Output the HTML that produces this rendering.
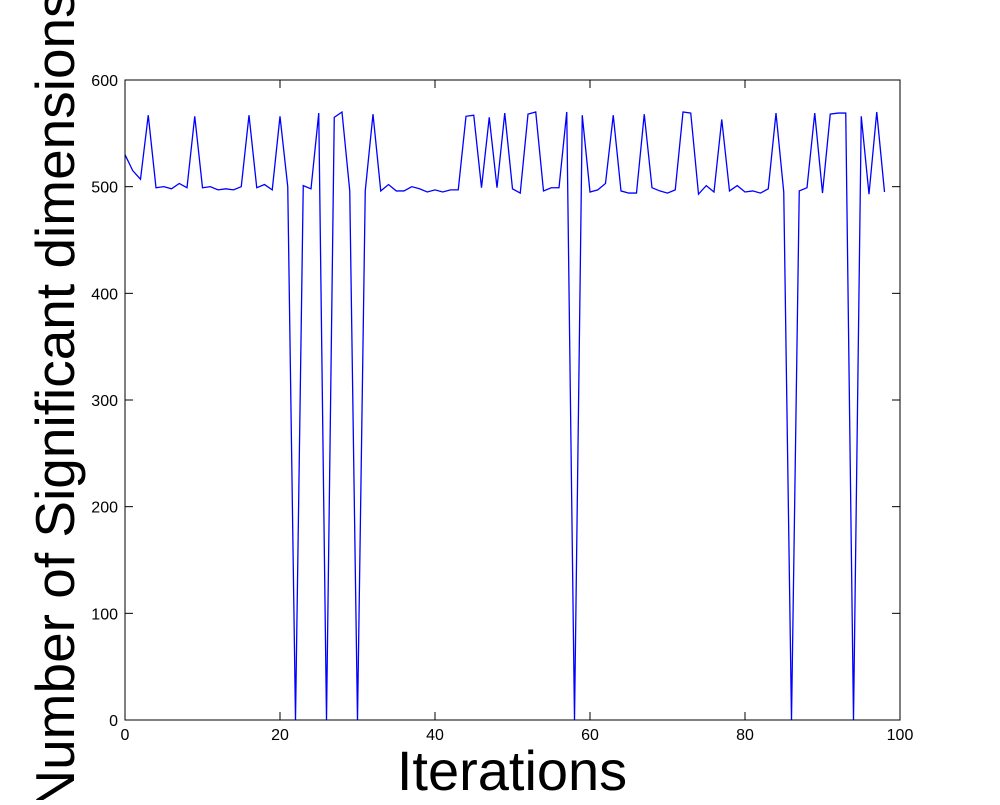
<!DOCTYPE html>
<html><head><meta charset="utf-8"><style>
body{margin:0;background:#fff;}
svg text{font-family:"Liberation Sans","DejaVu Sans",sans-serif;}
</style></head><body>
<svg id="chart" width="1000" height="800" xmlns="http://www.w3.org/2000/svg">
<rect width="1000" height="800" fill="#fff"/>
<g id="ticks"></g>
<polyline id="series" fill="none" stroke="#0000ff" stroke-width="1.3"/>
<rect x="125" y="80" width="775" height="640" fill="none" stroke="#000" stroke-width="1"/>
<text x="512" y="790" font-size="56" text-anchor="middle">Iterations</text>
<text transform="translate(74,400) rotate(-90)" font-size="55" text-anchor="middle">Number of Significant dimensions</text>
</svg>
<script>
const values=[530,515,507,567,499,500,498,503,499,566,499,500,497,498,497,500,567,499,502,497,566,500,0,501,498,569,0,565,570,496,0,496,568,496,502,496,496,500,498,495,497,495,497,497,566,567,499,565,499,569,498,494,568,570,496,499,499,570,0,567,495,497,503,567,496,494,494,568,499,496,494,497,570,569,493,501,495,563,496,501,495,496,494,498,569,495,0,496,499,569,494,568,569,569,0,566,493,570,495];
const xTicks=[0,20,40,60,80,100];
const yTicks=[0,100,200,300,400,500,600];
const X=v=>125+v*7.75, Y=v=>720-v*640/600;
const ns="http://www.w3.org/2000/svg";
const line=document.getElementById('series');
line.setAttribute('points',values.map((v,i)=>X(i)+','+Y(v)).join(' '));
const g=document.getElementById('ticks');
function mk(t,a){const e=document.createElementNS(ns,t);for(const k in a)e.setAttribute(k,a[k]);g.appendChild(e);return e;}
xTicks.forEach(t=>{
 const x=X(t);
 const l1=mk('line',{x1:x,x2:x,y1:720,y2:712,stroke:'#000'});
 
 
 const l2=mk('line',{x1:x,x2:x,y1:80,y2:88,stroke:'#000'});
 
 
 const tx=mk('text',{x:x,y:740,'font-size':16,'text-anchor':'middle'});
 tx.textContent=t;
 
 
});
yTicks.forEach(t=>{
 const y=Y(t);
 const l1=mk('line',{x1:125,x2:133,y1:y,y2:y,stroke:'#000'});
 
 
 const l2=mk('line',{x1:892,x2:900,y1:y,y2:y,stroke:'#000'});
 
 
 const tx=mk('text',{x:118,y:y+6,'font-size':16,'text-anchor':'end'});
 tx.textContent=t;
 
 
});
</script>
</body></html>
